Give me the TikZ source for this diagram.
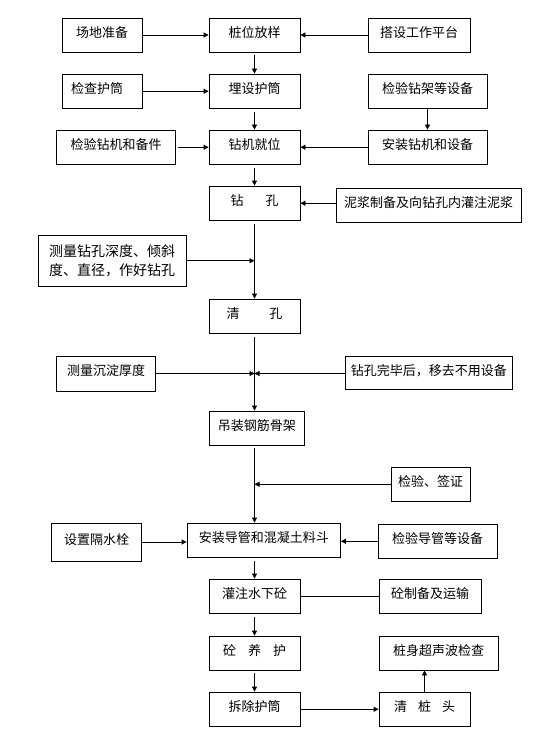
\documentclass[tikz,border=0pt]{standalone}
\usepackage{fontspec}
\setmainfont{Noto Sans CJK SC}
\usetikzlibrary{arrows.meta,fit}
\newcommand\mybox[6]{%
  \coordinate (#1-a) at (#2,#3);
  \coordinate (#1-b) at (#4,#5);
  \node[box, fit=(#1-a)(#1-b)] (#1) {};
  \node[txt] (#1-t) at ([yshift=2.5pt]#1.center) {#6};}
\begin{document}
\begin{tikzpicture}[x=1pt,y=-1pt,
  box/.style={draw, line width=0.8pt, inner sep=0pt},
  txt/.style={font=\fontsize{13}{15}\selectfont, inner sep=0pt},
  con/.style={line width=0.8pt},
  arr/.style={con, -{Triangle[length=5pt,width=5pt]}}]
\fill[white] (0,0) rectangle (536,738);
\useasboundingbox (0,0) rectangle (536,738);

\mybox{A}{62}{18}{142}{52}{场地准备}
\mybox{B}{209}{18}{300}{52}{桩位放样}
\mybox{C}{368}{18}{470}{52}{搭设工作平台}
\mybox{D}{62}{74}{142}{108.5}{\hspace*{-10pt}检查护筒}
\mybox{E}{209}{74}{300}{108.5}{埋设护筒}
\mybox{F}{368}{74}{487}{108.5}{检验钻架等设备}
\mybox{G}{56.5}{130}{175.5}{164.5}{检验钻机和备件}
\mybox{H}{209}{130}{300}{164.5}{钻机就位}
\mybox{I}{368}{130}{487}{164.5}{安装钻机和设备}
\mybox{J}{209}{186}{300}{220.5}{钻\hspace{22pt}孔}
\mybox{K}{336}{188}{521}{222.5}{泥浆制备及向钻孔内灌注泥浆}
\coordinate (L-a) at (38,235);
\coordinate (L-b) at (186,286.5);
\node[box, fit=(L-a)(L-b)] (L) {};
\node[txt, font=\fontsize{14}{19}\selectfont, align=left] (L-t) at (L.center) {测量钻孔深度、倾斜\\度、直径，作好钻孔};
\mybox{M}{209}{299}{300}{333.5}{清\hspace{30pt}孔}
\mybox{N}{56.5}{356}{155.5}{391}{测量沉淀厚度}
\mybox{O}{345}{356}{512.5}{389.5}{钻孔完毕后，移去不用设备}
\mybox{P}{209}{411}{304.5}{445}{吊装钢筋骨架}
\mybox{Q}{391}{467}{470}{501.5}{检验、签证}
\mybox{R}{51.5}{523}{141.5}{561}{设置隔水栓}
\mybox{S}{187}{523}{340.5}{557.5}{安装导管和混凝土料斗}
\mybox{T}{378}{524}{497}{558.5}{检验导管等设备}
\mybox{U}{209}{579}{300}{613.5}{灌注水下砼}
\mybox{V}{379}{579}{481}{613.5}{砼制备及运输}
\mybox{W}{209}{636}{300}{670}{砼\hspace{12pt}养\hspace{12pt}护}
\mybox{X}{379}{636}{498}{670}{桩身超声波检查}
\mybox{Y}{209}{692}{300}{726.5}{拆除护筒}
\mybox{Z}{379}{692}{470}{726}{清\hspace{11pt}桩\hspace{11pt}头}

\draw[arr] (A) -- (B);
\draw[arr] (C) -- (B);
\draw[arr] ([yshift=-3pt]B.south) -- (E.north);
\draw[arr] (D) -- (E);
\draw[arr] ([yshift=-3pt]E.south) -- (H.north);
\draw[arr] ([xshift=2pt]G.east) -- (H.west);
\draw[arr] (F) -- (I);
\draw[arr] (I) -- (H);
\draw[arr] ([yshift=-3pt]H.south) -- (J.north);
\draw[arr] (K.west |- J.east) -- (J.east);
\draw[arr] ([yshift=-3pt]J.south) -- (M.north);
\coordinate (jL) at (J.south |- L.east);
\draw[arr] (L.east) -- (jL);
\coordinate (mP) at (M.south |- P.north);
\draw[arr] ([yshift=-3pt]M.south) -- (mP);
\coordinate (jN) at (M.south |- N.east);
\draw[arr] (N.east) -- (jN);
\draw[arr] (O.west |- jN) -- (jN);
\coordinate (ps) at (M.south |- P.south);
\coordinate (sn) at (M.south |- S.north);
\draw[arr] ([yshift=-3pt]ps) -- (sn);
\draw[arr] (Q.west) -- (Q.west -| ps);
\draw[arr] (R.east) -- (R.east -| S.west);
\draw[arr] (T.west) -- (T.west -| S.east);
\draw[arr] ([yshift=-3pt]U.north |- S.south) -- (U.north);
\draw[con] (U) -- (V);
\draw[arr] ([yshift=-3pt]U.south) -- (W.north);
\draw[arr] ([yshift=-3pt]W.south) -- (Y.north);
\draw[arr] (Y.east) -- (Y.east -| Z.west);
\draw[arr] (Z.north) -- (Z.north |- X.south);
\end{tikzpicture}
\end{document}
